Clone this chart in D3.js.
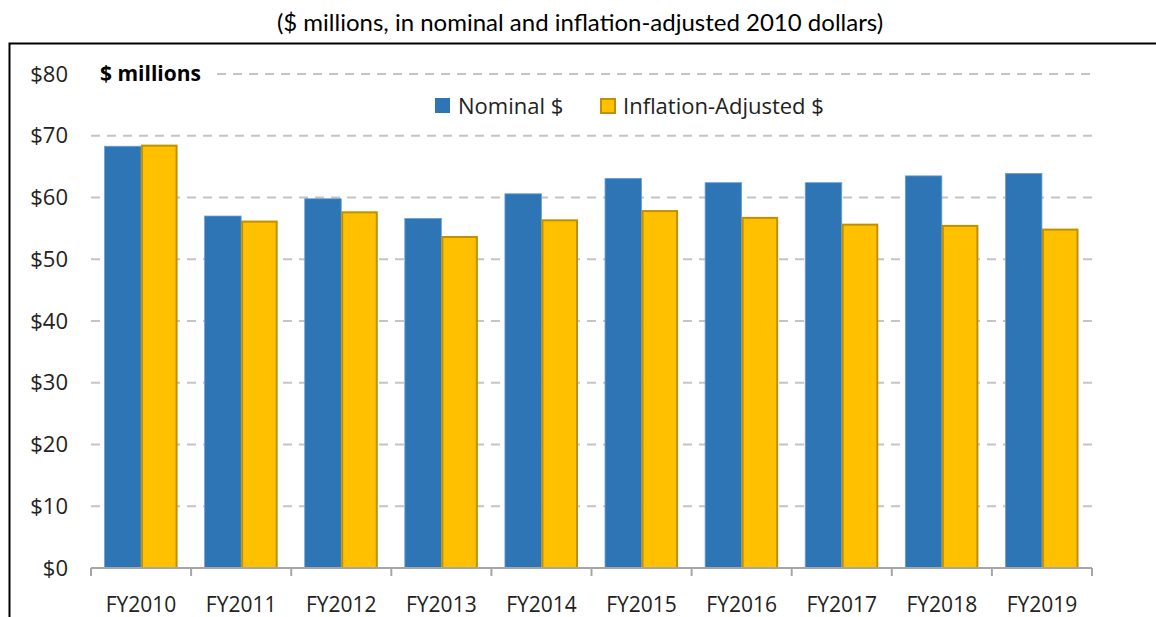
<!DOCTYPE html>
<html>
<head>
<meta charset="utf-8">
<script src="https://cdn.jsdelivr.net/npm/d3@7"></script>
<style>
  body { margin: 0; background: #fff; }
  svg { display: block; }
  text { font-family: 'Open Sans', 'DejaVu Sans', sans-serif; fill: #222; }
</style>
</head>
<body>
<svg id="chart" width="1156" height="617"></svg>
<script>
const years = ['FY2010', 'FY2011', 'FY2012', 'FY2013', 'FY2014', 'FY2015', 'FY2016', 'FY2017', 'FY2018', 'FY2019']
const nominal = [68.3, 57.0, 59.8, 56.6, 60.6, 63.1, 62.4, 62.4, 63.5, 63.9]
const adjusted = [68.4, 56.1, 57.6, 53.6, 56.3, 57.8, 56.7, 55.6, 55.4, 54.8]
const yTicks = [0, 10, 20, 30, 40, 50, 60, 70, 80]
const seriesNames = ['Nominal $', 'Inflation-Adjusted $']

const colors = { nominal: '#2E75B6', adjusted: '#FFC000', adjustedStroke: '#BF9000' }

const svg = d3.select('#chart')
const margin = { top: 74, right: 64, bottom: 49, left: 91 }
const width = +svg.attr('width')
const height = +svg.attr('height')

// title and frame
svg.append('text')
  .attr('x', 580)
  .attr('y', 31)
  .attr('text-anchor', 'middle')
  .style('font-family', 'Lato, sans-serif')
  .style('font-size', '24px')
  .style('fill', '#000')
  .text('($ millions, in nominal and inflation-adjusted 2010 dollars)')

svg.append('path')
  .attr('d', `M9.5,${height} V43.5 H${width}`)
  .attr('fill', 'none')
  .attr('stroke', '#000')
  .attr('stroke-width', 2)

const x = d3.scaleBand()
  .domain(years)
  .range([margin.left, width - margin.right])
  .paddingInner(0.27)
  .paddingOuter(0.135)

const x1 = d3.scaleBand()
  .domain(['nominal', 'adjusted'])
  .range([0, x.bandwidth()])

const y = d3.scaleLinear()
  .domain([0, 80])
  .range([height - margin.bottom, margin.top])

// gridlines
svg.append('g')
  .selectAll('line')
  .data(yTicks.filter(d => d > 0))
  .enter()
  .append('line')
  .attr('x1', d => d === 80 ? 217 : margin.left)
  .attr('x2', width - margin.right)
  .attr('y1', d => y(d))
  .attr('y2', d => y(d))
  .attr('stroke', '#C4C4C4')
  .attr('stroke-width', 2)
  .attr('stroke-dasharray', '9,7')

// y labels
svg.append('g')
  .selectAll('text')
  .data(yTicks)
  .enter()
  .append('text')
  .attr('x', 68)
  .attr('y', d => y(d))
  .attr('dy', '0.35em')
  .attr('text-anchor', 'end')
  .style('font-size', '22px')
  .text(d => `$${d}`)

svg.append('text')
  .attr('x', 100)
  .attr('y', y(80))
  .attr('dy', '0.35em')
  .style('font-size', '21px')
  .style('font-weight', 'bold')
  .style('fill', '#000')
  .text('$ millions')

// bars
const groups = svg.append('g')
  .selectAll('g')
  .data(years.map((yr, i) => ({ year: yr, nominal: nominal[i], adjusted: adjusted[i] })))
  .enter()
  .append('g')
  .attr('transform', d => `translate(${x(d.year)},0)`)

groups.append('rect')
  .attr('x', x1('nominal'))
  .attr('width', x1.bandwidth())
  .attr('y', d => y(d.nominal))
  .attr('height', d => y(0) - y(d.nominal))
  .attr('fill', colors.nominal)
  .attr('stroke', '#6A9FD4')
  .attr('stroke-width', 0.8)

groups.append('rect')
  .attr('x', x1('adjusted') + 1)
  .attr('width', x1.bandwidth() - 2)
  .attr('y', d => y(d.adjusted))
  .attr('height', d => y(0) - y(d.adjusted))
  .attr('fill', colors.adjusted)
  .attr('stroke', colors.adjustedStroke)
  .attr('stroke-width', 2)

// x axis
const xAxis = svg.append('g')
  .attr('transform', `translate(0,${y(0)})`)

xAxis.append('line')
  .attr('x1', margin.left)
  .attr('x2', width - margin.right)
  .attr('stroke', '#A6A6A6')
  .attr('stroke-width', 2)

const edges = years.map(d => x(d) - x.step() * x.paddingInner() / 2)
edges.push(width - margin.right)

xAxis.selectAll('.tick')
  .data(edges)
  .enter()
  .append('line')
  .attr('x1', d => d)
  .attr('x2', d => d)
  .attr('y1', 0)
  .attr('y2', 8)
  .attr('stroke', '#A6A6A6')
  .attr('stroke-width', 2)

xAxis.selectAll('text')
  .data(years)
  .enter()
  .append('text')
  .attr('x', d => x(d) + x.bandwidth() / 2)
  .attr('y', 44)
  .attr('text-anchor', 'middle')
  .style('font-size', '21px')
  .text(d => d)

// legend
const legend = svg.append('g')
const legendX = [435, 600]
seriesNames.forEach((name, i) => {
  legend.append('rect')
    .attr('x', legendX[i] + (i ? 1 : 0))
    .attr('y', 98 + (i ? 1 : 0))
    .attr('width', i ? 14 : 15)
    .attr('height', i ? 14 : 15)
    .attr('fill', i ? colors.adjusted : colors.nominal)
    .attr('stroke', i ? colors.adjustedStroke : 'none')
    .attr('stroke-width', 2)
  legend.append('text')
    .attr('x', legendX[i] + 23)
    .attr('y', 106)
    .attr('dy', '0.35em')
    .style('font-size', '22px')
    .text(name)
})
</script>
</body>
</html>
